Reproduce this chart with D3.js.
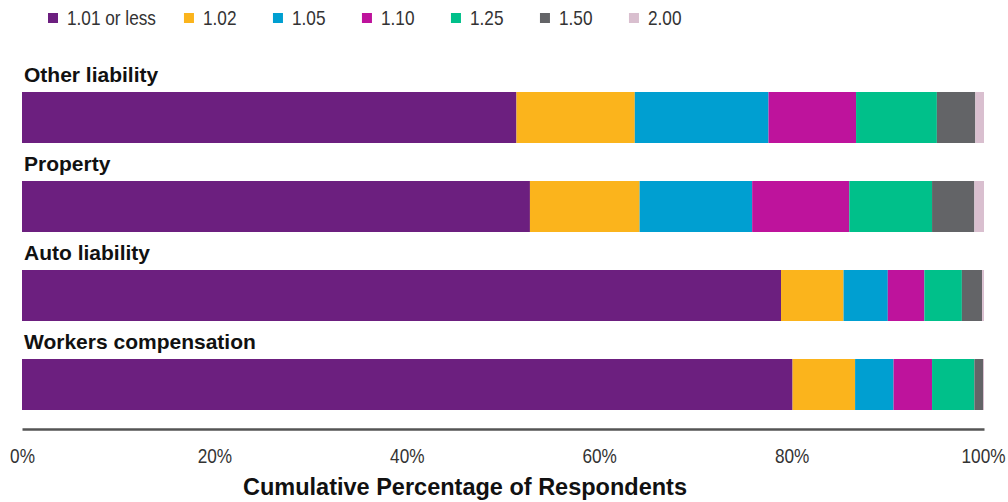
<!DOCTYPE html>
<html>
<head>
<meta charset="utf-8">
<script src="https://cdn.jsdelivr.net/npm/d3@7"></script>
<style>
  html, body { margin: 0; padding: 0; background: #ffffff; }
  svg { display: block; }
  .narrow { font-family: "Liberation Sans Narrow", "Arial Narrow", "Liberation Sans", Arial, sans-serif; }
  .bold { font-family: "Liberation Sans", Arial, sans-serif; font-weight: bold; }
</style>
</head>
<body>
<svg id="chart" width="1008" height="502"></svg>
<script>
// ---- data ----
const categories = ["Other liability", "Property", "Auto liability", "Workers compensation"];
const seriesKeys = ["1.01 or less", "1.02", "1.05", "1.10", "1.25", "1.50", "2.00"];
const otherLiability = [51.4, 12.3, 13.9, 9.1, 8.4, 4.0, 0.9];
const property       = [52.8, 11.4, 11.7, 10.1, 8.6, 4.4, 1.0];
const autoLiability  = [78.9, 6.5, 4.6, 3.8, 3.9, 2.1, 0.2];
const workersComp    = [80.1, 6.5, 4.0, 4.0, 4.4, 0.9, 0.1];
const tickValues = [0, 20, 40, 60, 80, 100];
const xTitle = "Cumulative Percentage of Respondents";
const colors = ["#6C1F7F", "#FBB41C", "#009FD1", "#BE139C", "#00C08A", "#636467", "#D9BFCF"];

const rowsValues = [otherLiability, property, autoLiability, workersComp];
const rows = categories.map((c, i) => {
  const o = { category: c };
  seriesKeys.forEach((k, j) => { o[k] = rowsValues[i][j]; });
  return o;
});

const NARROW = 0.82; // horizontal condensing to emulate a narrow face

// ---- layout ----
const svg = d3.select("#chart");
const x = d3.scaleLinear().domain([0, 100]).range([22, 984]);
const y = d3.scaleBand().domain(categories).range([92, 410]).paddingInner(0.427).paddingOuter(0);
const color = d3.scaleOrdinal().domain(seriesKeys).range(colors);

const stacked = d3.stack().keys(seriesKeys)(rows);

// bars
svg.append("g").selectAll("g")
  .data(stacked)
  .join("g")
  .attr("fill", d => color(d.key))
  .selectAll("rect")
  .data(d => d)
  .join("rect")
  .attr("x", d => x(d[0]))
  .attr("y", d => y(d.data.category))
  .attr("width", d => Math.max(0, x(d[1]) - x(d[0])))
  .attr("height", y.bandwidth());

// category labels
svg.append("g").selectAll("text")
  .data(categories)
  .join("text")
  .attr("class", "bold")
  .attr("x", 24)
  .attr("y", d => y(d) - 10)
  .attr("font-size", 21)
  .attr("fill", "#111")
  .text(d => d);

// x axis
const axis = svg.append("g")
  .attr("transform", "translate(0,429)")
  .call(d3.axisBottom(x).tickValues(tickValues).tickFormat(d => d + "%").tickSize(0));
axis.select(".domain").attr("stroke", "#555").attr("stroke-width", 2.5);
axis.selectAll(".tick text")
  .attr("class", "narrow")
  .attr("font-family", null)
  .attr("font-size", 21)
  .attr("fill", "#333")
  .attr("x", 0)
  .attr("y", 0)
  .attr("dy", 0)
  .attr("transform", d => d === 100
      ? `translate(21,34) scale(${NARROW},1)`
      : `translate(0,34) scale(${NARROW},1)`)
  .attr("text-anchor", d => d === 100 ? "end" : "middle");

// axis title
svg.append("text")
  .attr("class", "bold")
  .attr("x", 465)
  .attr("y", 495)
  .attr("text-anchor", "middle")
  .attr("font-size", 23.5)
  .attr("fill", "#111")
  .text(xTitle);

// legend
const legend = svg.append("g");
let lx = 48;
seriesKeys.forEach((k, i) => {
  legend.append("rect")
    .attr("x", lx).attr("y", 13).attr("width", 10).attr("height", 10)
    .attr("fill", color(k));
  const t = legend.append("text")
    .attr("class", "narrow")
    .attr("x", 0).attr("y", 0)
    .attr("transform", `translate(${lx + 19},25) scale(${NARROW},1)`)
    .attr("font-size", 21)
    .attr("fill", "#333")
    .text(k);
  const w = t.node().getComputedTextLength() * NARROW;
  lx = lx + Math.max(89, 17 + w + 30);
});
</script>
</body>
</html>
